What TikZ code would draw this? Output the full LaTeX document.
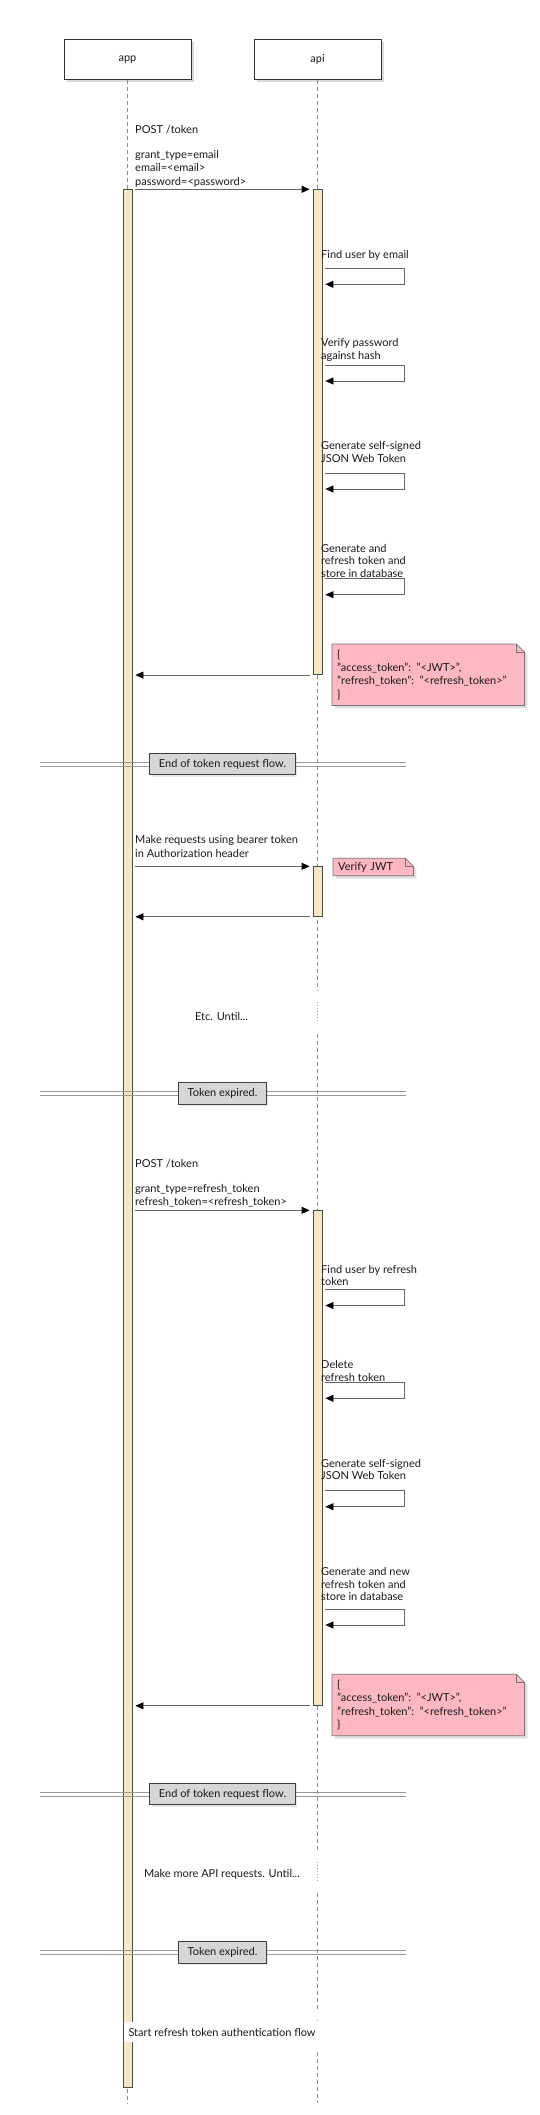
\documentclass[tikz,border=0pt]{standalone}
\usepackage{fontspec}
\setmainfont{Lato}
\usetikzlibrary{arrows.meta,shadows,backgrounds}
\definecolor{barfill}{RGB}{246,232,195}
\definecolor{notefill}{RGB}{255,183,194}
\definecolor{divfill}{RGB}{214,214,214}

\begin{document}
\begin{tikzpicture}[x=1pt,y=-1pt,
    every node/.style={font=\fontsize{11}{13.4}\selectfont,text=black!90},
    head/.style={draw=black!80,fill=white,line width=0.9pt,minimum width=127pt,minimum height=40pt,drop shadow={shadow xshift=3pt,shadow yshift=-3pt,opacity=0.3}},
    life/.style={black!45,line width=0.7pt,dash pattern=on 4pt off 3pt},
    delay/.style={black!35,line width=0.7pt,dash pattern=on 1pt off 2pt},
    bar/.style={draw=black!70,fill=barfill,line width=0.8pt,minimum width=9pt,inner sep=0pt,anchor=north},
    msg/.style={black!60,line width=0.8pt,shorten <=3pt,shorten >=3pt,-{Triangle[length=8pt,width=7pt,color=black]}},
    lbl/.style={align=left,inner sep=0pt,anchor=north west},
    self/.style={lbl,font=\fontsize{11}{12.5}\selectfont},
    div/.style={draw=black!75,fill=divfill,line width=0.9pt,inner xsep=9pt,minimum height=21.5pt,drop shadow={shadow xshift=2pt,shadow yshift=-2pt,opacity=0.2}},
    divline/.style={black!40,line width=0.8pt},
    note/.style={align=left,inner xsep=5pt,inner ysep=0pt,anchor=north west},
    notebox/.style={draw=black!55,fill=notefill,line width=0.8pt,drop shadow={shadow xshift=3pt,shadow yshift=-3pt,opacity=0.25}}
  ]
  \useasboundingbox (0,0) rectangle (540,2115);
  \def\appx{127.5}
  \def\apix{317.5}
  % participants and lifelines
  \node[head] (app) at (\appx,59.3) {app};
  \node[head] (api) at (\apix,59.3) {api};
  \coordinate (append) at (\appx,2103);
  \coordinate (apiend) at (\apix,2103);
  \draw[life] (app.south) -- (append);
  \draw[life] (api.south) -- (api.south |- 0,990) (api.south |- 0,1034) -- (api.south |- 0,1850)
    (api.south |- 0,1893) -- (api.south |- 0,2010) (api.south |- 0,2052) -- (apiend);
  \foreach \a/\b in {1002/1023,1862/1883,2020/2042}
    \draw[delay] (api.south |- 0,\a) -- (api.south |- 0,\b);

  % activations
  \node[bar,minimum height=1898pt] (appbar) at (\appx,189.3) {};
  \node[bar,minimum height=485pt] (api1) at (\apix,189.3) {};
  \node[bar,minimum height=49.7pt] (api2) at (\apix,866.3) {};
  \node[bar,minimum height=494.7pt] (api3) at (\apix,1210.3) {};

  % token request
  \node[lbl] (q1) at (135,125.6) {POST /token\\[11pt]grant\_type=email\\email=<email>\\password=<password>};
  \draw[msg] (appbar.east |- api1.north) -- (api1.north west);
  \foreach \ty/\ly/\txt [count=\i] in {249.8/268.3/{Find user by email},338.6/365/{Verify password\\against hash},
      441.6/473/{Generate self-signed\\JSON Web Token},544/578.7/{Generate and\\refresh token and\\store in database}}
  {
    \node[self] (sa\i) at (321,\ty) {\txt};
    \draw[msg] (api1.east |- 0,\ly) -- ++(82,0) -- ++(0,16) -- ++(-82,0);
  }
  \draw[msg] (api1.south west) -- (appbar.east |- api1.south);
  \node[note,text width=182pt,minimum height=61pt] (n1) at (332,644)
    {\{\\"access\_token": "<JWT>",\\"refresh\_token": "<refresh\_token>"\\\}};

  % bearer requests
  \node[lbl] (q2) at (135,835.6) {Make requests using bearer token\\in Authorization header};
  \draw[msg] (appbar.east |- api2.north) -- (api2.north west);
  \draw[msg] (api2.south west) -- (appbar.east |- api2.south);
  \node[note,text width=70pt,minimum height=17pt] (n3) at (333,858.3) {Verify JWT};

  % refresh
  \node[lbl] (q3) at (135,1159.6) {POST /token\\[11pt]grant\_type=refresh\_token\\refresh\_token=<refresh\_token>};
  \draw[msg] (appbar.east |- api3.north) -- (api3.north west);
  \foreach \ty/\ly/\txt [count=\i] in {1265/1289.5/{Find user by refresh\\token},1360.6/1382.3/{Delete\\refresh token},
      1459/1490.7/{Generate self-signed\\JSON Web Token},1567.6/1609/{Generate and new\\refresh token and\\store in database}}
  {
    \node[self] (sb\i) at (321,\ty) {\txt};
    \draw[msg] (api3.east |- 0,\ly) -- ++(82,0) -- ++(0,16) -- ++(-82,0);
  }
  \draw[msg] (api3.south west) -- (appbar.east |- api3.south);
  \node[note,text width=182pt,minimum height=61pt] (n2) at (332,1674.3)
    {\{\\"access\_token": "<JWT>",\\"refresh\_token": "<refresh\_token>"\\\}};

  % note outlines
  \begin{scope}[on background layer]
    \foreach \n in {n1,n2,n3}
      \draw[notebox] (\n.north west) -- ([xshift=-8pt]\n.north east) -- ([yshift=-8pt]\n.north east)
        -- (\n.south east) -- (\n.south west) -- cycle;
  \end{scope}
  \foreach \n in {n1,n2,n3}
    \draw[black!55,line width=0.8pt] ([xshift=-8pt]\n.north east) |- ([yshift=-8pt]\n.north east);

  % dividers and delays
  \foreach \y/\txt [count=\i] in {764/End of token request flow.,1093.3/Token expired.,1794/End of token request flow.,1952.3/Token expired.}
  {
    \draw[divline] (40,\y-2) -- (405.5,\y-2) (40,\y+2) -- (405.5,\y+2);
    \node[div] (div\i) at (222.5,\y) {\txt};
  }
  \node (d1) at (221.5,1016) {Etc. Until...};
  \node (d2) at (222,1874) {Make more API requests. Until...};
  \node[fill=white,minimum width=196pt,minimum height=20pt] (d3) at (222,2032) {Start refresh token authentication flow};
\end{tikzpicture}
\end{document}
